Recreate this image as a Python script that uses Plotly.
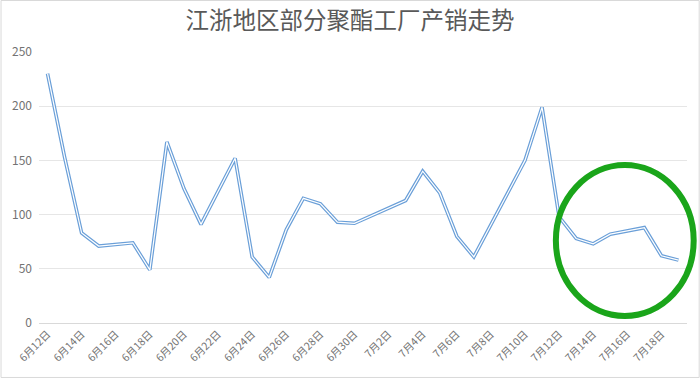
import pandas as pd
import plotly.graph_objects as go

title_text = "江浙地区部分聚酯工厂产销走势"
year = 2018
dates = ["06-12", "06-13", "06-14", "06-15", "06-17", "06-18", "06-19", "06-20",
         "06-21", "06-23", "06-24", "06-25", "06-26", "06-27", "06-28", "06-29",
         "06-30", "07-03", "07-04", "07-05", "07-06", "07-07", "07-10", "07-11",
         "07-12", "07-13", "07-14", "07-15", "07-17", "07-18", "07-19"]
values = [230, 153, 83, 71, 74, 49, 167, 124,
          91, 152, 61, 42, 86, 115, 110, 93,
          92, 113, 140, 120, 80, 61, 150, 199,
          98, 78, 73, 82, 88, 62, 58]
y_ticks = [0, 50, 100, 150, 200, 250]

x = pd.to_datetime([f"{year}-{d}" for d in dates])
start = x.min()
end = x.max()
all_days = pd.date_range(start, end, freq="D")
label_days = all_days[::2]
label_text = [f"{d.month}月{d.day}日" for d in label_days]
half = pd.Timedelta(hours=12)
grid_days = [d + half for d in all_days[1::2]]
xr = [start - half, end + half]

FONT = "Noto Sans CJK SC"
GREY = "#595959"
LGREY = "#737373"

fig = go.Figure()
fig.add_trace(go.Scatter(x=x, y=values, mode="lines",
                         line=dict(color="#6a9fd8", width=3.6),
                         hoverinfo="skip", showlegend=False))
fig.add_trace(go.Scatter(x=x, y=values, mode="lines",
                         line=dict(color="#ffffff", width=1.2),
                         showlegend=False))

fig.update_layout(
    width=700, height=378,
    margin=dict(l=38.5, r=12.7, t=52, b=55),
    paper_bgcolor="white", plot_bgcolor="white",
    font=dict(family=FONT, color=GREY),
    title=dict(text=title_text, x=0.5, xanchor="center", y=0.945, yanchor="middle",
               font=dict(family=FONT, size=23.5, color=GREY)),
    xaxis=dict(type="date", range=xr, tickvals=list(label_days), ticktext=label_text,
               tickangle=-45, tickfont=dict(size=10.5, color=LGREY), showgrid=False,
               showline=True, linecolor="#d9d9d9", linewidth=1, ticks="", zeroline=False),
    xaxis2=dict(type="date", range=xr, overlaying="x", side="bottom",
                tickvals=grid_days, showticklabels=False, showgrid=True,
                gridcolor="#eeeeee", gridwidth=1, ticks="", zeroline=False,
                layer="below traces"),
    yaxis=dict(range=[0, 250], tickvals=y_ticks, tickfont=dict(size=12, color=LGREY),
               showgrid=True, gridcolor="#e6e6e6", gridwidth=1, zeroline=False,
               showline=False, ticks="", ticklabelstandoff=6),
)

# outer chart border
fig.add_shape(type="rect", xref="paper", yref="paper",
              x0=-0.0586, x1=1.0188, y0=-0.201, y1=1.190,
              line=dict(color="#d9d9d9", width=1))
# green highlight ellipse
fig.add_shape(type="circle", xref="paper", yref="paper",
              x0=(556 - 38.5) / 648.8, x1=(694 - 38.5) / 648.8,
              y0=(323 - 316) / 271, y1=(323 - 165) / 271,
              line=dict(color="#1aa51a", width=6))

fig.write_html("out.html",
               config={"displayModeBar": False},
               post_script="document.body.style.margin='0';document.body.style.padding='0';")
